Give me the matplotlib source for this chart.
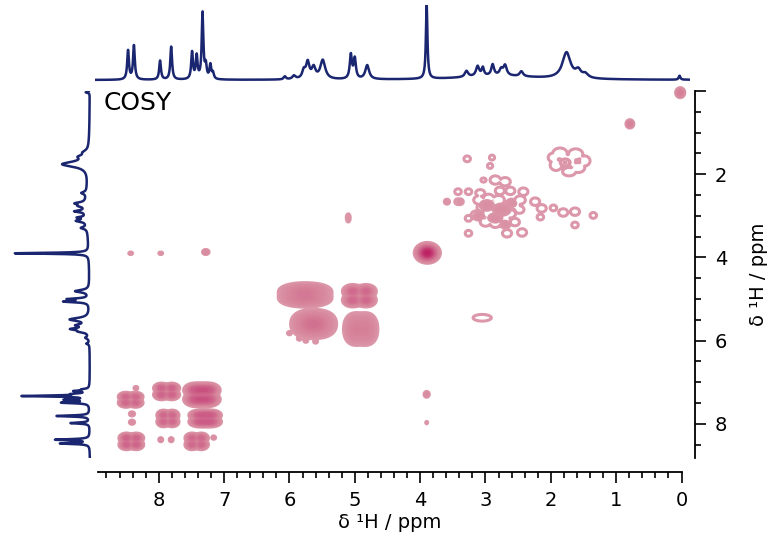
"""COSY spectrum with 1D projections on top and left."""

import numpy as np
import matplotlib.pyplot as plt
from matplotlib.colors import LinearSegmentedColormap, LogNorm
from matplotlib.ticker import MultipleLocator

plt.rcParams["font.family"] = ["DejaVu Sans"]

NAVY = "#1b2670"

# 1D 1H spectrum: peak position (ppm), height, half width (ppm)
peak_ppm = [8.47, 8.38, 7.98, 7.81, 7.49, 7.42, 7.33, 7.28, 7.21, 7.17,
            6.07, 5.93, 5.78, 5.72, 5.63, 5.49, 5.06, 5.00, 4.81,
            3.90, 3.29, 3.12, 3.04, 2.89, 2.76, 2.70, 2.45, 2.80,
            1.76, 1.58, 1.47, 0.03]
peak_height = [29, 34, 19, 33, 27, 23, 66, 13, 14, 6,
               3, 3.5, 8, 16, 11, 19, 24, 20, 14,
               74, 6, 10, 8, 11, 6, 10, 5, 4,
               26, 7, 4, 4]
peak_hwhm = [0.016, 0.016, 0.016, 0.016, 0.016, 0.016, 0.015, 0.016, 0.016, 0.016,
             0.02, 0.03, 0.03, 0.03, 0.035, 0.045, 0.02, 0.02, 0.035,
             0.014, 0.03, 0.03, 0.02, 0.025, 0.03, 0.03, 0.03, 0.7,
             0.075, 0.05, 0.05, 0.015]

# 2D cross peaks / multiplet blocks: centre x, centre y, half extent x, half extent y,
# amplitude, sub-peaks along x and y
blk_x = [8.43, 8.35, 7.88, 7.34, 8.41, 8.41, 7.86, 7.29, 8.42, 7.97, 7.81, 7.42, 7.16,
         5.76, 4.93, 5.63, 5.71, 4.91, 6.00, 5.85, 5.75, 5.60,
         3.89, 7.28, 8.43, 7.97, 3.90, 3.90, 5.10,
         0.02, 0.79,
         2.98, 2.75, 2.85, 2.60, 3.10, 2.70, 3.39, 3.59, 1.78]
blk_y = [7.42, 7.14, 7.22, 7.30, 7.76, 7.96, 7.87, 7.87, 8.42, 8.38, 8.38, 8.42, 8.33,
         4.90, 4.92, 5.60, 5.70, 5.72, 5.82, 5.95, 6.00, 6.02,
         3.89, 3.87, 3.90, 3.90, 7.29, 7.97, 3.05,
         0.04, 0.79,
         2.75, 2.85, 3.05, 2.70, 3.00, 3.20, 2.66, 2.66, 1.72]
blk_hx = [0.19, 0.03, 0.20, 0.28, 0.04, 0.04, 0.17, 0.25, 0.19, 0.03, 0.03, 0.18, 0.03,
          0.38, 0.26, 0.30, 0.08, 0.23, 0.03, 0.03, 0.03, 0.03,
          0.20, 0.05, 0.03, 0.03, 0.04, 0.015, 0.03,
          0.07, 0.06,
          0.12, 0.15, 0.12, 0.08, 0.09, 0.08, 0.05, 0.04, 0.10]
blk_hy = [0.18, 0.04, 0.20, 0.28, 0.05, 0.05, 0.20, 0.20, 0.20, 0.05, 0.05, 0.20, 0.04,
          0.24, 0.27, 0.30, 0.10, 0.38, 0.04, 0.04, 0.04, 0.04,
          0.25, 0.06, 0.03, 0.03, 0.07, 0.03, 0.10,
          0.12, 0.10,
          0.14, 0.16, 0.12, 0.10, 0.10, 0.09, 0.07, 0.06, 0.12]
blk_amp = [22, 2.5, 26, 30, 3, 3, 22, 25, 26, 3, 3, 22, 2.5,
           3.5, 22, 3.5, 6, 4, 1.8, 1.8, 1.8, 1.8,
           100, 4, 1.8, 1.8, 3.5, 1.4, 1.8,
           10, 8,
           2.6, 2.8, 2.6, 2.2, 2.2, 2.2, 1.8, 1.8, 1.7]
blk_nx = [2, 1, 2, 3, 1, 1, 2, 3, 2, 1, 1, 2, 1,
          4, 2, 3, 1, 2, 1, 1, 1, 1,
          1, 1, 1, 1, 1, 1, 1,
          1, 1,
          1, 1, 1, 1, 1, 1, 1, 1, 1]
blk_ny = [2, 1, 2, 2, 1, 1, 2, 2, 2, 1, 1, 2, 1,
          2, 2, 3, 1, 3, 1, 1, 1, 1,
          1, 1, 1, 1, 1, 1, 1,
          1, 1,
          1, 1, 1, 1, 1, 1, 1, 1, 1]

# weak peaks that only reach the lowest contour (drawn as rings)
ring_x = [3.05, 1.86, 1.62, 1.74, 1.58, 1.92, 1.48, 1.72, 1.96,
          3.28, 2.90, 2.93, 2.85, 2.70, 3.03, 3.42, 3.26, 3.08, 2.78, 2.62, 2.42,
          3.10, 2.95, 2.80, 3.05, 2.90, 2.75, 2.55, 3.14, 2.95, 2.80, 2.62, 2.48,
          3.00, 2.85, 2.70, 2.55, 2.47, 2.24, 2.14, 2.16, 2.44, 2.67, 3.26, 3.26,
          1.96, 1.81, 1.63, 1.35, 1.63, 3.42]
ring_y = [5.45, 1.50, 1.52, 1.68, 1.84, 1.78, 1.68, 1.94, 1.60,
          1.63, 1.60, 1.80, 2.14, 2.18, 2.14, 2.42, 2.42, 2.45, 2.40, 2.40, 2.42,
          2.62, 2.58, 2.62, 2.80, 2.78, 2.82, 2.75, 2.98, 2.95, 3.00, 2.95, 2.85,
          3.15, 3.18, 3.10, 3.15, 2.62, 2.66, 2.82, 3.03, 3.40, 3.42, 3.06, 3.42,
          2.81, 2.92, 2.90, 2.99, 3.22, 2.66]
ring_rx = [0.14, 0.11, 0.11, 0.12, 0.10, 0.09, 0.08, 0.10, 0.08,
           0.05, 0.04, 0.04, 0.08, 0.08, 0.04, 0.05, 0.05, 0.07, 0.07, 0.07, 0.07,
           0.08, 0.08, 0.09, 0.08, 0.09, 0.08, 0.08, 0.08, 0.09, 0.08, 0.08, 0.07,
           0.08, 0.08, 0.08, 0.07, 0.08, 0.07, 0.07, 0.05, 0.07, 0.07, 0.05, 0.05,
           0.05, 0.07, 0.07, 0.05, 0.05, 0.05]
ring_ry = [0.08, 0.13, 0.13, 0.15, 0.12, 0.13, 0.12, 0.10, 0.11,
           0.07, 0.06, 0.06, 0.10, 0.10, 0.05, 0.07, 0.07, 0.08, 0.09, 0.09, 0.09,
           0.10, 0.10, 0.11, 0.10, 0.11, 0.10, 0.10, 0.10, 0.11, 0.10, 0.10, 0.09,
           0.10, 0.10, 0.10, 0.09, 0.10, 0.09, 0.09, 0.07, 0.09, 0.09, 0.07, 0.07,
           0.07, 0.09, 0.09, 0.07, 0.07, 0.07]

# 1D trace
ppm = np.linspace(-0.2, 9.1, 8000)
spec = np.zeros_like(ppm)
for p, h, w in zip(peak_ppm, peak_height, peak_hwhm):
    spec += h / (1 + ((ppm - p) / w) ** 2)

# 2D map: each peak summed over its sub-peaks, peaks combined by maximum
gx = np.linspace(-0.15, 8.93, 820)
gy = np.linspace(-0.15, 8.82, 620)
X, Y = np.meshgrid(gx, gy)
Z = np.zeros_like(X)
base = 1.0
RING_AMP = 1.12
for xc, yc, hx, hy, a, nx, ny in zip(blk_x + ring_x, blk_y + ring_y,
                                     blk_hx + ring_rx, blk_hy + ring_ry,
                                     blk_amp + [RING_AMP] * len(ring_x),
                                     blk_nx + [1] * len(ring_x),
                                     blk_ny + [1] * len(ring_x)):
    fx = 0.0 if nx == 1 else 0.4
    fy = 0.0 if ny == 1 else 0.4
    k = np.sqrt(2 * np.log(a / base))
    sx = (1 - fx) * hx / k
    sy = (1 - fy) * hy / k
    z = np.zeros_like(X)
    for ox in np.linspace(-fx, fx, nx) * hx:
        for oy in np.linspace(-fy, fy, ny) * hy:
            z += a * np.exp(-0.5 * ((X - xc - ox) / sx) ** 2 - 0.5 * ((Y - yc - oy) / sy) ** 2)
    Z = np.maximum(Z, z)

cmap = LinearSegmentedColormap.from_list(
    "cosy", [(0, "#dc98aa"), (0.45, "#d68299"), (0.75, "#cc5b86"), (1, "#bb1a5e")])
norm = LogNorm(base, 110)
levels = np.geomspace(base, 130, 30)

W, H = 774, 552
fig = plt.figure(figsize=(W / 100, H / 100), dpi=100)

ax = fig.add_axes([98 / W, 1 - 458 / H, 583.5 / W, 367 / H])
ax_top = fig.add_axes([95 / W, 1 - 88 / H, 595 / W, 83 / H])
ax_left = fig.add_axes([5 / W, 1 - 458 / H, 90 / W, 367 / H])

cf = ax.contourf(X, Y, Z, levels=levels[3:], cmap=cmap, norm=norm)
cl = ax.contour(X, Y, Z, levels=levels, cmap=cmap, norm=norm,
                linewidths=[2.2] + [1.5] * (len(levels) - 1))
cf.set_clip_on(False)
cl.set_clip_on(False)
ax.set_xlim(8.93, 0)
ax.set_ylim(8.82, 0)

for s in ["left", "top"]:
    ax.spines[s].set_visible(False)
for s in ["right", "bottom"]:
    ax.spines[s].set_position(("outward", 10))
    ax.spines[s].set_linewidth(1.3)
ax.yaxis.tick_right()
ax.yaxis.set_label_position("right")
ax.xaxis.set_major_locator(MultipleLocator(1))
ax.xaxis.set_minor_locator(MultipleLocator(0.2))
ax.set_yticks([0, 2, 4, 6, 8])
ax.set_yticklabels(["", "2", "4", "6", "8"])
ax.yaxis.set_minor_locator(MultipleLocator(0.5))
ax.tick_params(which="major", length=8, width=1.2, labelsize=14, pad=6)
ax.tick_params(which="minor", length=4, width=1.2)
ax.set_xlabel("δ ¹H / ppm", fontsize=14, labelpad=2)
ax.set_ylabel("δ ¹H / ppm", fontsize=14, labelpad=16)
ax.text(0.01, 0.967, "COSY", transform=ax.transAxes, fontsize=18,
        va="center", ha="left")

ax_top.plot(ppm, spec, color=NAVY, lw=1.8)
ax_top.set_xlim(8.976, -0.13)
ax_top.set_ylim(-8, 75)
ax_top.axis("off")

ax_left.plot(spec, ppm, color=NAVY, lw=1.8)
ax_left.set_ylim(8.82, 0)
ax_left.set_xlim(85, -5)
ax_left.axis("off")

plt.savefig("out.png", dpi=100)
